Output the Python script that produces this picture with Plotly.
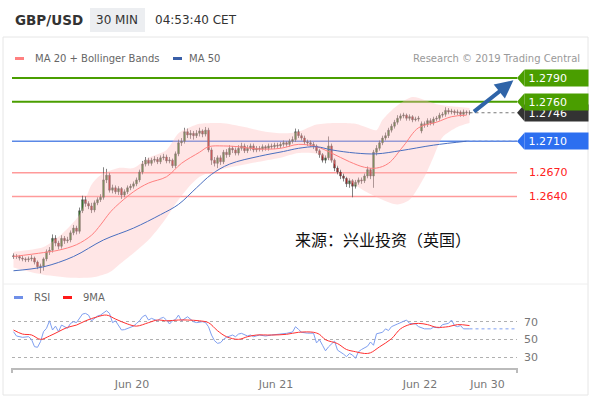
import plotly.graph_objects as go

W, H = 594, 399

# ---------------- data ----------------
bar_index = list(range(153))
opens = [1.2565,1.2564,1.2564,1.2562,1.2561,1.2560,1.2561,1.2562,1.2557,1.2551,
 1.2552,1.2561,1.2570,1.2572,1.2587,1.2581,1.2577,1.2587,1.2584,1.2585,
 1.2594,1.2600,1.2596,1.2622,1.2636,1.2631,1.2628,1.2623,1.2632,1.2636,
 1.2639,1.2661,1.2667,1.2648,1.2651,1.2646,1.2650,1.2642,1.2646,1.2651,
 1.2653,1.2656,1.2661,1.2671,1.2681,1.2686,1.2682,1.2686,1.2687,1.2684,
 1.2689,1.2690,1.2685,1.2686,1.2679,1.2694,1.2708,1.2710,1.2722,1.2718,
 1.2720,1.2717,1.2720,1.2723,1.2719,1.2724,1.2699,1.2686,1.2682,1.2689,
 1.2684,1.2696,1.2693,1.2701,1.2699,1.2695,1.2701,1.2704,1.2698,1.2701,
 1.2704,1.2699,1.2701,1.2700,1.2703,1.2701,1.2704,1.2703,1.2705,1.2704,
 1.2706,1.2708,1.2706,1.2710,1.2712,1.2722,1.2717,1.2714,1.2709,1.2708,
 1.2706,1.2704,1.2698,1.2693,1.2686,1.2689,1.2704,1.2686,1.2676,1.2671,
 1.2666,1.2663,1.2656,1.2660,1.2653,1.2658,1.2661,1.2660,1.2666,1.2674,
 1.2666,1.2696,1.2701,1.2708,1.2714,1.2717,1.2724,1.2729,1.2734,1.2739,
 1.2742,1.2743,1.2739,1.2741,1.2737,1.2738,1.2723,1.2732,1.2731,1.2736,
 1.2733,1.2738,1.2739,1.2743,1.2744,1.2749,1.2747,1.2748,1.2746,1.2747,
 1.2744,1.2747,1.2746]
closes = [1.2564,1.2564,1.2562,1.2561,1.2560,1.2561,1.2562,1.2557,1.2551,1.2552,
 1.2561,1.2570,1.2572,1.2587,1.2581,1.2577,1.2587,1.2584,1.2585,1.2594,
 1.2600,1.2596,1.2622,1.2636,1.2631,1.2628,1.2623,1.2632,1.2636,1.2639,
 1.2661,1.2667,1.2648,1.2651,1.2646,1.2650,1.2642,1.2646,1.2651,1.2653,
 1.2656,1.2661,1.2671,1.2681,1.2686,1.2682,1.2686,1.2687,1.2684,1.2689,
 1.2690,1.2685,1.2686,1.2679,1.2694,1.2708,1.2710,1.2722,1.2718,1.2720,
 1.2717,1.2720,1.2723,1.2719,1.2724,1.2699,1.2686,1.2682,1.2689,1.2684,
 1.2696,1.2693,1.2701,1.2699,1.2695,1.2701,1.2704,1.2698,1.2701,1.2704,
 1.2699,1.2701,1.2700,1.2703,1.2701,1.2704,1.2703,1.2705,1.2704,1.2706,
 1.2708,1.2706,1.2710,1.2712,1.2722,1.2717,1.2714,1.2709,1.2708,1.2706,
 1.2704,1.2698,1.2693,1.2686,1.2689,1.2704,1.2686,1.2676,1.2671,1.2666,
 1.2663,1.2656,1.2660,1.2653,1.2658,1.2661,1.2660,1.2666,1.2674,1.2666,
 1.2696,1.2701,1.2708,1.2714,1.2717,1.2724,1.2729,1.2734,1.2739,1.2742,
 1.2743,1.2739,1.2741,1.2737,1.2738,1.2739,1.2732,1.2731,1.2736,1.2733,
 1.2738,1.2739,1.2743,1.2744,1.2749,1.2747,1.2748,1.2746,1.2747,1.2744,
 1.2747,1.2746,1.2746]
highs = [1.2568,1.2567,1.2566,1.2565,1.2563,1.2564,1.2566,1.2564,1.2559,1.2555,
 1.2563,1.2573,1.2576,1.2592,1.2591,1.2584,1.2591,1.2590,1.2589,1.2597,
 1.2604,1.2603,1.2626,1.2641,1.2640,1.2634,1.2632,1.2635,1.2639,1.2643,
 1.2677,1.2675,1.2670,1.2655,1.2654,1.2653,1.2652,1.2649,1.2654,1.2656,
 1.2659,1.2664,1.2674,1.2685,1.2690,1.2689,1.2689,1.2691,1.2690,1.2692,
 1.2694,1.2693,1.2690,1.2688,1.2697,1.2712,1.2714,1.2727,1.2726,1.2724,
 1.2723,1.2724,1.2727,1.2725,1.2728,1.2727,1.2702,1.2690,1.2692,1.2692,
 1.2699,1.2700,1.2705,1.2704,1.2702,1.2705,1.2708,1.2707,1.2705,1.2707,
 1.2707,1.2704,1.2704,1.2706,1.2705,1.2707,1.2707,1.2708,1.2708,1.2709,
 1.2711,1.2710,1.2713,1.2716,1.2726,1.2725,1.2720,1.2717,1.2712,1.2711,
 1.2709,1.2706,1.2700,1.2695,1.2692,1.2716,1.2707,1.2688,1.2679,1.2674,
 1.2669,1.2665,1.2663,1.2662,1.2661,1.2664,1.2664,1.2669,1.2678,1.2676,
 1.2699,1.2705,1.2711,1.2717,1.2721,1.2727,1.2732,1.2737,1.2743,1.2745,
 1.2746,1.2745,1.2744,1.2743,1.2741,1.2742,1.2735,1.2735,1.2739,1.2739,
 1.2741,1.2742,1.2746,1.2747,1.2753,1.2752,1.2751,1.2750,1.2750,1.2749,
 1.2750,1.2749,1.2749]
lows = [1.2561,1.2561,1.2559,1.2558,1.2557,1.2557,1.2558,1.2554,1.2548,1.2543,
 1.2546,1.2558,1.2566,1.2569,1.2577,1.2573,1.2574,1.2580,1.2581,1.2582,
 1.2591,1.2592,1.2593,1.2619,1.2627,1.2624,1.2619,1.2620,1.2629,1.2633,
 1.2636,1.2657,1.2645,1.2644,1.2643,1.2642,1.2637,1.2639,1.2643,1.2648,
 1.2650,1.2653,1.2658,1.2668,1.2678,1.2679,1.2679,1.2683,1.2681,1.2681,
 1.2686,1.2682,1.2682,1.2676,1.2676,1.2691,1.2704,1.2707,1.2714,1.2713,
 1.2712,1.2714,1.2716,1.2715,1.2716,1.2696,1.2680,1.2678,1.2676,1.2680,
 1.2681,1.2689,1.2690,1.2695,1.2692,1.2692,1.2698,1.2695,1.2695,1.2698,
 1.2696,1.2696,1.2697,1.2697,1.2698,1.2698,1.2700,1.2700,1.2701,1.2701,
 1.2703,1.2703,1.2703,1.2707,1.2709,1.2714,1.2711,1.2706,1.2704,1.2703,
 1.2700,1.2695,1.2689,1.2683,1.2682,1.2686,1.2683,1.2672,1.2668,1.2662,
 1.2659,1.2652,1.2651,1.2639,1.2650,1.2655,1.2656,1.2657,1.2663,1.2662,
 1.2651,1.2692,1.2698,1.2705,1.2711,1.2714,1.2721,1.2726,1.2731,1.2736,
 1.2739,1.2736,1.2736,1.2734,1.2735,1.2735,1.2720,1.2727,1.2728,1.2730,
 1.2730,1.2735,1.2736,1.2740,1.2741,1.2744,1.2744,1.2743,1.2743,1.2741,
 1.2741,1.2743,1.2743]

ma20_idx = [0,10,15,21,26,29,32,34,40,45,51,56,62,65,70,75,82,89,95,101,106,112,117,121,125,130,135,141,146,151]
ma20_val = [1.2564,1.2569,1.2572,1.2579,1.2591,1.2604,1.2619,1.2627,1.2646,1.2657,1.2665,1.2682,1.2696,1.2703,1.2704,
            1.2703,1.2700,1.2701,1.2706,1.2703,1.2695,1.2684,1.2677,1.2676,1.2682,1.2704,1.2727,1.2734,1.2741,1.2743]
bb_up_idx = [0,10,15,22,26,29,35,40,45,51,55,59,62,69,77,84,90,95,101,107,114,118,121,123,126,129,133,142,152]
bb_up_val = [1.2570,1.2576,1.2589,1.2617,1.2655,1.2667,1.2676,1.2676,1.2689,1.2699,1.2720,1.2728,1.2732,1.2733,1.2728,
             1.2722,1.2720,1.2722,1.2731,1.2733,1.2732,1.2727,1.2724,1.2737,1.2749,1.2758,1.2766,1.2756,1.2752]
bb_lo_idx = [0,6,10,20,27,32,35,45,50,55,62,69,79,89,95,101,107,112,118,123,128,132,137,140,143,148,152]
bb_lo_val = [1.2550,1.2544,1.2541,1.2537,1.2538,1.2544,1.2553,1.2585,1.2608,1.2636,1.2665,1.2674,1.2682,1.2689,1.2695,
             1.2694,1.2681,1.2660,1.2645,1.2636,1.2630,1.2636,1.2665,1.2690,1.2715,1.2728,1.2733]
ma50_idx = [0,10,20,30,40,49,55,61,66,72,82,90,95,101,106,114,121,129,140,151]
ma50_val = [1.2546,1.2551,1.2564,1.2585,1.2600,1.2617,1.2630,1.2651,1.2668,1.2681,1.2691,1.2697,1.2701,1.2703,1.2699,
            1.2695,1.2694,1.2698,1.2705,1.2710]

rsi_idx = [0,1,3,5,6,7,8,9,10,11,12,13,14,15,16,18,19,20,21,23,24,25,26,27,28,29,31,32,33,34,35,36,37,39,40,41,42,43,
           44,45,46,48,49,50,51,52,53,54,55,56,57,58,60,61,63,64,65,66,67,68,69,70,71,72,73,74,75,76,78,79,80,82,84,86,
           89,91,93,94,95,96,98,100,101,102,103,104,105,106,107,108,109,110,111,112,113,114,115,116,118,119,120,121,123,
           124,125,126,128,130,131,132,134,135,137,139,140,142,143,145,146,147,148,149,150,152]
rsi_val = [58.7,53.8,52.3,53,50,41.7,41,47.4,58.7,62.5,71,60.6,65,58.7,66.2,62.5,68,70,69,78.7,79.4,77.5,71,73.8,76.4,
           77.5,82.4,79.4,69,71,66,60.6,61,63.6,65,68,71,75.6,77.5,71.9,73.8,71,73.8,74.9,71.9,67.4,71,72.6,77.5,71,73.8,
           75.6,70,69,70,69,64.3,54.9,48.5,45.5,46.2,50,52.3,53.8,54.9,53,56,56.8,53.8,54.9,53,54.9,53.8,54.9,55.7,56.8,
           58.3,64.3,61.3,58,57,57,46,49.6,43.3,37,41.5,45.2,48,37.8,36,33.3,30.4,34,32.2,28.5,36,38.5,42.2,47,43.3,56.3,
           58,61.9,60,64.4,67.4,70.4,71.9,68.1,67.4,64.4,61.9,61.9,63.7,63,66.7,68.1,71.9,65.6,64.4,65.6,61.9,61.9]
rsi_ma_idx = [0,3,6,9,12,15,18,21,24,28,31,34,38,41,45,48,51,55,58,62,65,68,71,75,78,81,86,91,95,100,102,104,108,111,
              114,117,119,122,126,129,132,135,138,141,145,148,152]
rsi_ma_val = [60.6,56,55,50,53.8,58.7,63.6,66.2,71,75.6,77.5,73,67.4,65,68.9,71.9,71,71.9,71.9,71,68.9,59.8,53,50,53,
              54.9,54.9,55.7,58,58,55.6,49.6,45.2,38.5,36,34,34.8,41.5,50.7,61.9,66.7,68.1,66.7,63.7,64.4,66.7,65.6]

tick_pos = [39.5, 87.5, 135.5, 158]
tick_text = ["Jun 20", "Jun 21", "Jun 22", "Jun 30"]
rsi_ticks = [30, 50, 70]

resistances = [1.2790, 1.2760]
pivot = 1.2710
supports = [1.2670, 1.2640]

# ---------------- layout helpers ----------------
def px(x):
    return x / W

def py(y):
    return 1 - y / H

X0, X1 = 12, 517               # plotting area, pixels
XR = [-0.5, -0.5 + (X1 - X0) / 3.0]
PRICE_TOP, PRICE_BOT = 65, 285
PRICE_RANGE = [1.2790 - (PRICE_BOT - 78) / 7900, 1.2790 + (78 - PRICE_TOP) / 7900]
RSI_TOP, RSI_BOT = 300, 368
RSI_RANGE = [30 - (RSI_BOT - 357) / 0.8825, 70 + (321.7 - RSI_TOP) / 0.8825]
HALF = 8 / 7900               # half label height in price units

FONT = "DejaVu Sans"
GREEN = "#4a9e00"
BLUE_LVL = "#2c6ff0"

fig = go.Figure()

# Bollinger band
fig.add_trace(go.Scatter(x=bb_lo_idx, y=bb_lo_val, mode="lines", line=dict(width=0, shape="spline", smoothing=0.8),
                         hoverinfo="skip", showlegend=False, xaxis="x", yaxis="y"))
fig.add_trace(go.Scatter(x=bb_up_idx, y=bb_up_val, mode="lines", line=dict(width=0, shape="spline", smoothing=0.8),
                         fill="tonexty", fillcolor="rgba(255,185,185,0.36)", hoverinfo="skip", showlegend=False,
                         xaxis="x", yaxis="y"))
fig.add_trace(go.Scatter(x=ma20_idx, y=ma20_val, mode="lines", line=dict(color="#ff8080", width=1, shape="spline"),
                         hoverinfo="skip", showlegend=False, xaxis="x", yaxis="y"))
fig.add_trace(go.Scatter(x=ma50_idx, y=ma50_val, mode="lines", line=dict(color="#4a6fc0", width=1, shape="spline"),
                         hoverinfo="skip", showlegend=False, xaxis="x", yaxis="y"))
# dotted extensions
fig.add_trace(go.Scatter(x=[ma50_idx[-1], XR[1]], y=[ma50_val[-1], ma50_val[-1]], mode="lines",
                         line=dict(color="#6f8fd8", width=1, dash="dot"), hoverinfo="skip", showlegend=False,
                         xaxis="x", yaxis="y"))
fig.add_trace(go.Scatter(x=[bar_index[-1], XR[1]], y=[closes[-1], closes[-1]], mode="lines",
                         line=dict(color="#777777", width=1, dash="dot"), hoverinfo="skip", showlegend=False,
                         xaxis="x", yaxis="y"))

fig.add_trace(go.Candlestick(x=bar_index, open=opens, high=highs, low=lows, close=closes,
                             increasing=dict(line=dict(color="#4d4d4d", width=0.7), fillcolor="#2f8a1c"),
                             decreasing=dict(line=dict(color="#4d4d4d", width=0.7), fillcolor="#d81010"),
                             whiskerwidth=0, hoverinfo="skip", showlegend=False, xaxis="x", yaxis="y"))

# RSI panel
fig.add_trace(go.Scatter(x=rsi_idx, y=rsi_val, mode="lines", line=dict(color="#7f9ff0", width=1),
                         hoverinfo="skip", showlegend=False, xaxis="x2", yaxis="y2"))
fig.add_trace(go.Scatter(x=[rsi_idx[-1], XR[1]], y=[rsi_val[-1], rsi_val[-1]], mode="lines",
                         line=dict(color="#7f9ff0", width=1, dash="dot"), hoverinfo="skip", showlegend=False,
                         xaxis="x2", yaxis="y2"))
fig.add_trace(go.Scatter(x=rsi_ma_idx, y=rsi_ma_val, mode="lines", line=dict(color="#ff3030", width=1, shape="spline"),
                         hoverinfo="skip", showlegend=False, xaxis="x2", yaxis="y2"))

shapes = []
annotations = []

# frame
shapes.append(dict(type="rect", xref="paper", yref="paper", x0=px(3), x1=px(588), y0=py(395), y1=py(37),
                   line=dict(color="#e6e6e6", width=1), layer="below"))
shapes.append(dict(type="line", xref="paper", yref="paper", x0=px(3), x1=px(588), y0=py(284), y1=py(284),
                   line=dict(color="#eeeeee", width=1), layer="below"))

# level lines
for lv in resistances:
    shapes.append(dict(type="line", xref="paper", yref="y", x0=px(X0), x1=px(X1), y0=lv, y1=lv,
                       line=dict(color=GREEN, width=2), layer="below"))
shapes.append(dict(type="line", xref="paper", yref="y", x0=px(X0), x1=px(X1), y0=pivot, y1=pivot,
                   line=dict(color="#5a88e6", width=1.5), layer="below"))
for lv in supports:
    shapes.append(dict(type="line", xref="paper", yref="y", x0=px(X0), x1=px(X1), y0=lv, y1=lv,
                       line=dict(color="#ff9a9a", width=1.5), layer="below"))

# label boxes (pointer triangles + boxes)
def pointer(level, color):
    return dict(type="path", xref="paper", yref="y",
                path=f"M {px(X1)},{level} L {px(524)},{level + HALF} L {px(524.5)},{level + HALF} "
                     f"L {px(524.5)},{level - HALF} L {px(524)},{level - HALF} Z",
                fillcolor=color, line=dict(width=0), layer="above")

def box(level, color, text):
    return dict(xref="paper", yref="y", x=px(524), y=level, xanchor="left", yanchor="middle",
                text=" " + text, showarrow=False, bgcolor=color, width=63, height=16, borderpad=0,
                align="left", font=dict(family=FONT, size=11, color="white"))

last_label = f"{closes[-1]:.4f}"
shapes.append(pointer(closes[-1], "#333333"))
shapes.append(pointer(resistances[1], GREEN))
shapes.append(pointer(resistances[0], GREEN))
shapes.append(pointer(pivot, BLUE_LVL))
annotations.append(box(closes[-1], "#333333", last_label))
annotations.append(box(resistances[1], GREEN, f"{resistances[1]:.4f}"))
annotations.append(box(resistances[0], GREEN, f"{resistances[0]:.4f}"))
annotations.append(box(pivot, BLUE_LVL, f"{pivot:.4f}"))
for lv in supports:
    annotations.append(dict(xref="paper", yref="y", x=px(527), y=lv, xanchor="left", yanchor="middle",
                            text=f"{lv:.4f}", showarrow=False, font=dict(family=FONT, size=11, color="#ff2020")))

# arrow
annotations.append(dict(xref="x", yref="y", axref="x", ayref="y", x=XR[1] - 1.2, y=resistances[0] - 0.0003,
                        ax=bar_index[-1] + 1, ay=closes[-1], showarrow=True, arrowhead=2, arrowsize=0.9,
                        arrowwidth=4, arrowcolor="#2f64a8", text="", standoff=0, startstandoff=0))

# header
annotations.append(dict(xref="paper", yref="paper", x=px(13), y=py(20), xanchor="left", yanchor="middle",
                        text="<b>GBP/USD</b>", showarrow=False, font=dict(family=FONT, size=13.5, color="#333333")))
shapes.append(dict(type="rect", xref="paper", yref="paper", x0=px(90), x1=px(145), y0=py(32), y1=py(8),
                   fillcolor="#eceef1", line=dict(width=0), layer="below"))
annotations.append(dict(xref="paper", yref="paper", x=px(117.5), y=py(20), xanchor="center", yanchor="middle",
                        text="30 MIN", showarrow=False, font=dict(family=FONT, size=12, color="#333333")))
annotations.append(dict(xref="paper", yref="paper", x=px(153), y=py(20), xanchor="left", yanchor="middle",
                        text="04:53:40 CET", showarrow=False, font=dict(family=FONT, size=12, color="#333333")))

# legends
def swatch(x0, y, color):
    return dict(type="rect", xref="paper", yref="paper", x0=px(x0), x1=px(x0 + 9), y0=py(y + 1.5), y1=py(y - 1.5),
                fillcolor=color, line=dict(width=0))

def label(x, y, text, color="#666666", size=10, anchor="left"):
    return dict(xref="paper", yref="paper", x=px(x), y=py(y), xanchor=anchor, yanchor="middle", text=text,
                showarrow=False, font=dict(family=FONT, size=size, color=color))

shapes.append(swatch(15, 58.5, "#ff8080"))
annotations.append(label(33, 58.5, "MA 20 + Bollinger Bands"))
shapes.append(swatch(173, 58.5, "#3a5fa8"))
annotations.append(label(187, 58.5, "MA 50"))
annotations.append(label(582, 58.5, "Research © 2019 Trading Central", color="#999999", anchor="right"))

shapes.append(swatch(14, 297.5, "#6f8fe8"))
annotations.append(label(32, 297.5, "RSI"))
shapes.append(swatch(63, 297.5, "#ff1a1a"))
annotations.append(label(81, 297.5, "9MA"))

# watermark text
annotations.append(dict(xref="paper", yref="paper", x=px(293), y=py(239), xanchor="left", yanchor="middle",
                        text="来源：兴业投资（英国）", showarrow=False,
                        font=dict(family="Noto Sans CJK SC", size=16, color="#111111")))

# axis end ticks
for xe in (X0, X1):
    shapes.append(dict(type="line", xref="paper", yref="paper", x0=px(xe), x1=px(xe), y0=py(RSI_BOT), y1=py(RSI_BOT + 5),
                       line=dict(color="#bbbbbb", width=2)))

fig.update_layout(
    width=W, height=H, margin=dict(l=0, r=0, t=0, b=0),
    paper_bgcolor="white", plot_bgcolor="white", showlegend=False,
    xaxis=dict(domain=[px(X0), px(X1)], range=XR, visible=False, anchor="y", rangeslider=dict(visible=False),
               fixedrange=True),
    yaxis=dict(domain=[py(PRICE_BOT), py(PRICE_TOP)], range=PRICE_RANGE, visible=False, anchor="x", fixedrange=True),
    xaxis2=dict(domain=[px(X0), px(X1)], range=XR, anchor="y2", showgrid=False, zeroline=False,
                showline=True, linecolor="#bbbbbb", linewidth=2, tickmode="array", tickvals=tick_pos,
                ticktext=tick_text, ticks="", ticklabelstandoff=5,
                tickfont=dict(family=FONT, size=11, color="#777777"), fixedrange=True),
    yaxis2=dict(domain=[py(RSI_BOT), py(RSI_TOP)], range=RSI_RANGE, anchor="x2", side="right", showline=False,
                zeroline=False, tickmode="array", tickvals=rsi_ticks, ticks="", ticklabelstandoff=6,
                showgrid=True, gridcolor="#b0b0b0", griddash="dot", gridwidth=1,
                tickfont=dict(family=FONT, size=11, color="#777777"), fixedrange=True),
    shapes=shapes, annotations=annotations,
)

fig.write_html("out.html", config={"displayModeBar": False},
               post_script="document.body.style.margin='0';document.body.style.padding='0';")
